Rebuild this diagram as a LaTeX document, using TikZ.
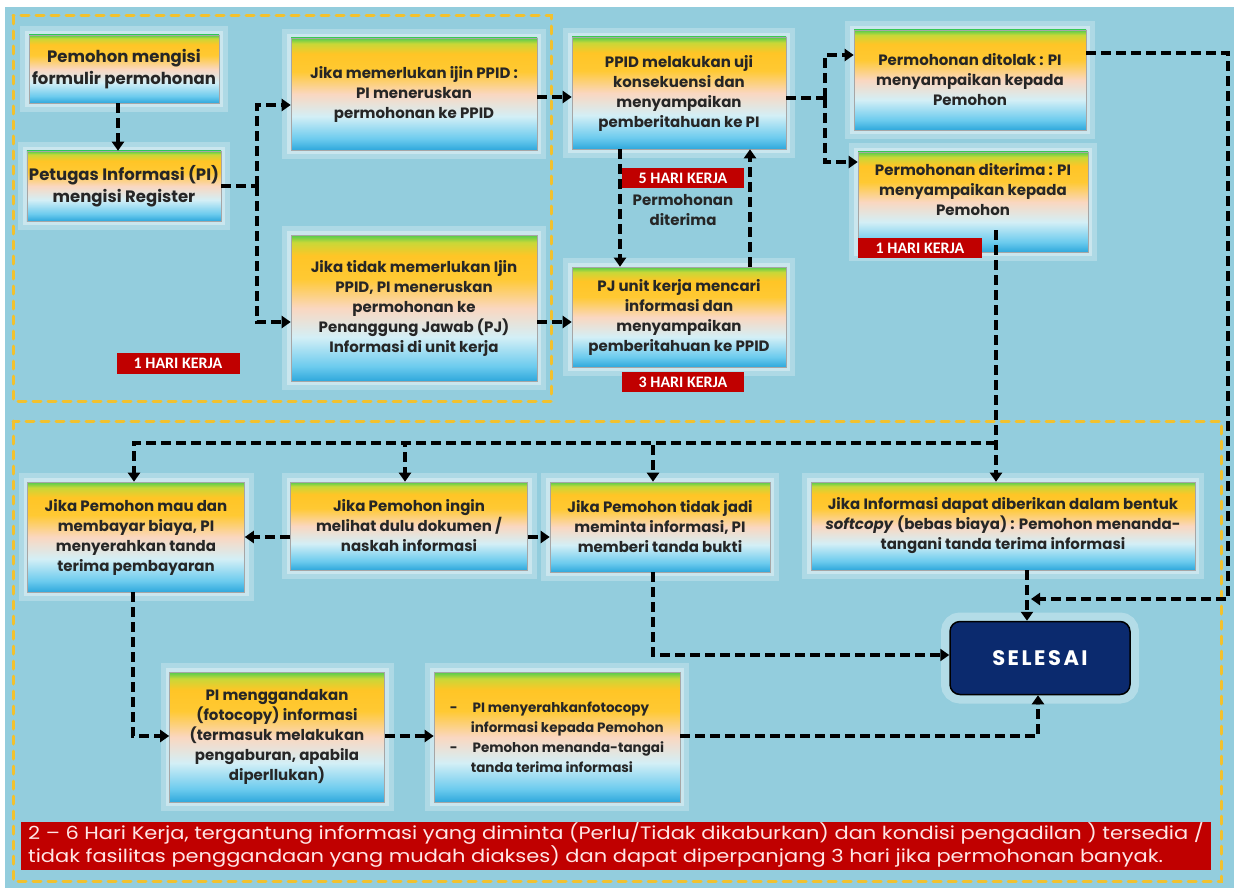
\documentclass[tikz,border=0pt]{standalone}
\usepackage{fontspec}
\usepackage{graphicx}
\setmainfont{Poppins}
\newfontfamily\boxfam{Poppins}
\newfontfamily\labfam{Carlito}
\usetikzlibrary{arrows.meta,calc}
\definecolor{bg}{HTML}{93CDDD}
\definecolor{frameY}{HTML}{F2C12E}
\definecolor{labred}{HTML}{C00000}
\definecolor{navy}{HTML}{0B2A6E}
\definecolor{sbA}{HTML}{2FA8DC}
\definecolor{sbB}{HTML}{6CCBEE}
\definecolor{sbC}{HTML}{D3EFF6}
\definecolor{sbD}{HTML}{FAD7C0}
\definecolor{sbE}{HTML}{FFC933}
\definecolor{sbF}{HTML}{FFC526}
\definecolor{sbG}{HTML}{C8D838}
\definecolor{sbH}{HTML}{4FCB4F}
\pgfdeclareverticalshading{boxshade}{100bp}{color(0bp)=(sbA); color(25bp)=(sbA); color(30bp)=(sbB); color(40bp)=(sbC); color(50bp)=(sbD); color(60bp)=(sbE); color(68bp)=(sbF); color(72.5bp)=(sbG); color(75bp)=(sbH); color(100bp)=(sbH)}
\newcommand\boxf{\boxfam\bfseries\fontsize{15}{20}\selectfont}
\newcommand\boxfL{\boxfam\bfseries\fontsize{16.5}{22}\selectfont}
\newcommand\boxfS{\boxfam\bfseries\fontsize{13.5}{20}\selectfont}
\newcommand\labf{\labfam\bfseries\fontsize{16}{16}\selectfont}
\tikzset{
  box/.style={shade, shading=boxshade, draw=black!35, line width=0.6pt, align=center,
    font=\boxf, text=black!85, inner sep=2pt,
    preaction={draw=white, draw opacity=0.25, line width=18pt},
    preaction={draw=white, draw opacity=0.35, line width=8pt}},
  lab/.style={fill=labred, text=white, font=\labf, inner sep=0pt},
  conn/.style={draw=black, line width=3.5pt, dash pattern=on 10pt off 5pt},
  arr/.style={conn, -{Triangle[width=12pt,length=9pt]}},
  frame/.style={draw=frameY, line width=3pt, dash pattern=on 8pt off 7pt, line cap=round},
}
\begin{document}
\begin{tikzpicture}[x=1pt,y=-1pt]
\useasboundingbox (0,0) rectangle (1234,888);
\fill[white] (0,0) rectangle (1234,888);
\fill[bg] (5,7) rectangle (1234,888);
\draw[frame] (13,16) rectangle (551,401);
\draw[frame] (13,421) rectangle (1221,881);

% top boxes
\node[box, font=\boxfL, minimum width=190pt, minimum height=68pt] (b1) at (124,69) {Pemohon mengisi\\formulir permohonan};
\node[box, font=\boxfL, minimum width=190pt, minimum height=70pt] (b2) at (124,186) {Petugas Informasi (PI)\\mengisi Register};
\node[box, minimum width=246pt, minimum height=112pt] (b3) at (414,94) {Jika memerlukan ijin PPID :\\PI meneruskan\\permohonan ke PPID};
\node[box, minimum width=246pt, minimum height=146pt] (b4) at (414,308) {Jika tidak memerlukan Ijin\\PPID, PI meneruskan\\permohonan ke\\Penanggung Jawab (PJ)\\Informasi di unit kerja};
\node[box, minimum width=214pt, minimum height=112pt] (b5) at (679,93) {PPID melakukan uji\\konsekuensi dan\\menyampaikan\\pemberitahuan ke PI};
\node[box, minimum width=214pt, minimum height=100pt] (b6) at (679,317) {PJ unit kerja mencari\\informasi dan\\menyampaikan\\pemberitahuan ke PPID};
\node[box, minimum width=232pt, minimum height=100pt] (b7) at (970,80) {Permohonan ditolak : PI\\menyampaikan kepada\\Pemohon};
\node[box, minimum width=230pt, minimum height=100pt] (b8) at (973,202) {Permohonan diterima : PI\\menyampaikan kepada\\Pemohon\\[6pt]};

\node[lab, minimum width=123pt, minimum height=21pt] (l1) at (178,363) {1 HARI KERJA};
\node[lab, minimum width=122pt, minimum height=20pt] (l5) at (683,178) {5 HARI KERJA};
\node[lab, minimum width=122pt, minimum height=20pt] (l3) at (683,382) {3 HARI KERJA};
\node[lab, minimum width=124pt, minimum height=20pt] (l1b) at (920,248) {1 HARI KERJA};
\node[font=\boxf, text=black!85, align=center] (pd) at (683,210) {Permohonan\\diterima};

% bottom boxes
\node[box, minimum width=217pt, minimum height=110pt] (b9) at (136,537) {Jika Pemohon mau dan\\membayar biaya, PI\\menyerahkan tanda\\terima pembayaran};
\node[box, minimum width=237pt, minimum height=88pt] (b10) at (409,526) {Jika Pemohon ingin\\melihat dulu dokumen /\\naskah informasi};
\node[box, minimum width=220pt, minimum height=90pt] (b11) at (660,527) {Jika Pemohon tidak jadi\\meminta informasi, PI\\memberi tanda bukti};
\node[box, minimum width=384pt, minimum height=88pt] (b12) at (1003,526) {Jika Informasi dapat diberikan dalam bentuk\\\textit{softcopy} (bebas biaya) : Pemohon menanda-\\tangani tanda terima informasi};
\node[box, minimum width=215pt, minimum height=130pt] (b13) at (277,737) {PI menggandakan\\(fotocopy) informasi\\(termasuk melakukan\\pengaburan, apabila\\diperllukan)};
\node[box, font=\boxfS, minimum width=246pt, minimum height=130pt, align=left] (b14) at (557,737) {-\hspace{1.1em}PI menyerahkanfotocopy\\\hspace{1.55em}informasi kepada Pemohon\\-\hspace{1.1em}Pemohon menanda-tangai\\\hspace{1.55em}tanda terima informasi};
\node[draw=black, line width=1.5pt, fill=navy, rounded corners=10pt, minimum width=180pt, minimum height=73pt,
  preaction={draw=white, draw opacity=0.3, line width=18pt},
  text=white, font=\boxfam\bfseries\fontsize{21}{22}\selectfont\addfontfeature{LetterSpace=12}] (sel) at (1040,658) {SELESAI};

\node[fill=labred, text=white!90!red, inner sep=0pt, minimum width=1190pt, minimum height=48pt,
  font=\fontsize{18}{23}\selectfont] (ban) at (616,846)
  {\scalebox{1.165}[1]{\begin{tabular}{@{}l@{}}2 – 6 Hari Kerja, tergantung informasi yang diminta (Perlu/Tidak dikaburkan) dan kondisi pengadilan ) tersedia /\\[-1pt]tidak fasilitas penggandaan yang mudah diakses) dan dapat diperpanjang 3 hari jika permohonan banyak.\end{tabular}}};

% connectors
\coordinate (j1) at (257,186);
\coordinate (j2) at (825,98);
\coordinate (h) at (996,443);
\coordinate (m1) at (1031,599);
\coordinate (s8) at (996,230);
\draw[arr] (b1.south -| 118,0) -- (b2.north -| 118,0);
\draw[conn] (b2.east) -- (j1);
\draw[arr] (j1) |- (b3.west |- 0,105);
\draw[arr] (j1) |- (b4.west |- 0,322);
\draw[arr] (b3.east |- 0,97) -- (b5.west |- 0,97);
\draw[arr] (b4.east |- 0,322) -- (b6.west |- 0,322);
\draw[arr] (b5.south -| 620,0) -- (b6.north -| 620,0);
\draw[arr] (b6.north -| 750,0) -- (b5.south -| 750,0);
\draw[conn] (b5.east |- j2) -- (j2);
\draw[arr] (j2) |- (b7.west |- 0,55);
\draw[arr] (j2) |- (b8.west |- 0,162);
\draw[arr] (b7.east |- 0,53) -| (1228,599) -- (m1);
\draw[arr] (s8) -- (b12.north -| s8);
\draw[arr] (h) -| (b9.north -| 134,0);
\draw[arr] (h) -| (b10.north -| 405,0);
\draw[arr] (h) -| (b11.north -| 653,0);
\draw[arr] (b10.west |- 0,537) -- (b9.east |- 0,537);
\draw[arr] (b10.east |- 0,537) -- (b11.west |- 0,537);
\draw[arr] (b11.south -| 653,0) |- (sel.west |- 0,655);
\draw[arr] (b12.south -| 1027,0) -- (sel.north -| 1027,0);
\draw[arr] (b9.south -| 133,0) |- (b13.west |- 0,736);
\draw[arr] (b13.east |- 0,736) -- (b14.west |- 0,736);
\draw[arr] (b14.east |- 0,736) -| (sel.south -| 1038,0);
\end{tikzpicture}
\end{document}
